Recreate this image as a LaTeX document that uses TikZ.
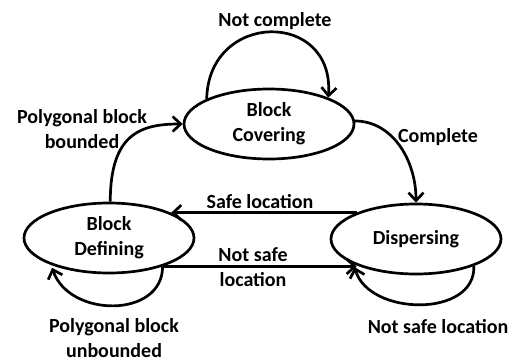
\documentclass[tikz,border=0pt]{standalone}
\usepackage{fontspec}
\setmainfont{Carlito}
\usetikzlibrary{shapes.geometric,arrows.meta}
\newcommand\diaglbl{\bfseries\fontsize{20}{25}\selectfont}
\begin{document}
\begin{tikzpicture}[x=1pt,y=-1pt,
  state/.style={draw,ellipse,line width=2.7pt,minimum width=170pt,minimum height=70pt,inner sep=0pt,align=center,font=\diaglbl},
  arr/.style={line width=2.7pt,-{Straight Barb[length=8pt,width=15pt]}},
  lab/.style={align=center,font=\diaglbl,inner sep=0pt}]
\useasboundingbox (0,0) rectangle (517,362);
\node[state] (bc) at (269,124) {Block\\Covering};
\node[state] (bd) at (109,238) {Block\\Defining};
\node[state] (ds) at (416,239) {Dispersing};
% loops and transitions
\draw[arr] (bc.158) .. controls +(2,-88) and +(6,-88) .. (bc.24);
\draw[arr] (bd.88) .. controls +(0,-68) and +(-42,0) .. (bc.180);
\draw[arr] (bc.2) .. controls +(37,0) and +(0,-43) .. (ds.90);
\draw[arr] (ds.156) -- (ds.156 -| bd.22);
\draw[arr] (bd.-28) -- (bd.-28 -| ds.-156);
\draw[arr,shorten >=3pt] (bd.-28) .. controls +(0,52) and +(18,53) .. (bd.-155);
\draw[arr,shorten >=3pt] (ds.-25) .. controls +(2,52) and +(15,52) .. (ds.-158);
% labels
\node[lab] (lnc) at (275,21) {Not complete};
\node[lab] (lpb) at (82,129) {Polygonal block\\bounded};
\node[lab] (lc) at (438,137) {Complete};
\node[lab] (lsl) at (260,202) {Safe location};
\node[lab] (lns) at (253,267) {Not safe\\location};
\node[lab] (lpu) at (114,338) {Polygonal block\\unbounded};
\node[lab] (lnsl) at (438,327) {Not safe location};
\end{tikzpicture}
\end{document}
